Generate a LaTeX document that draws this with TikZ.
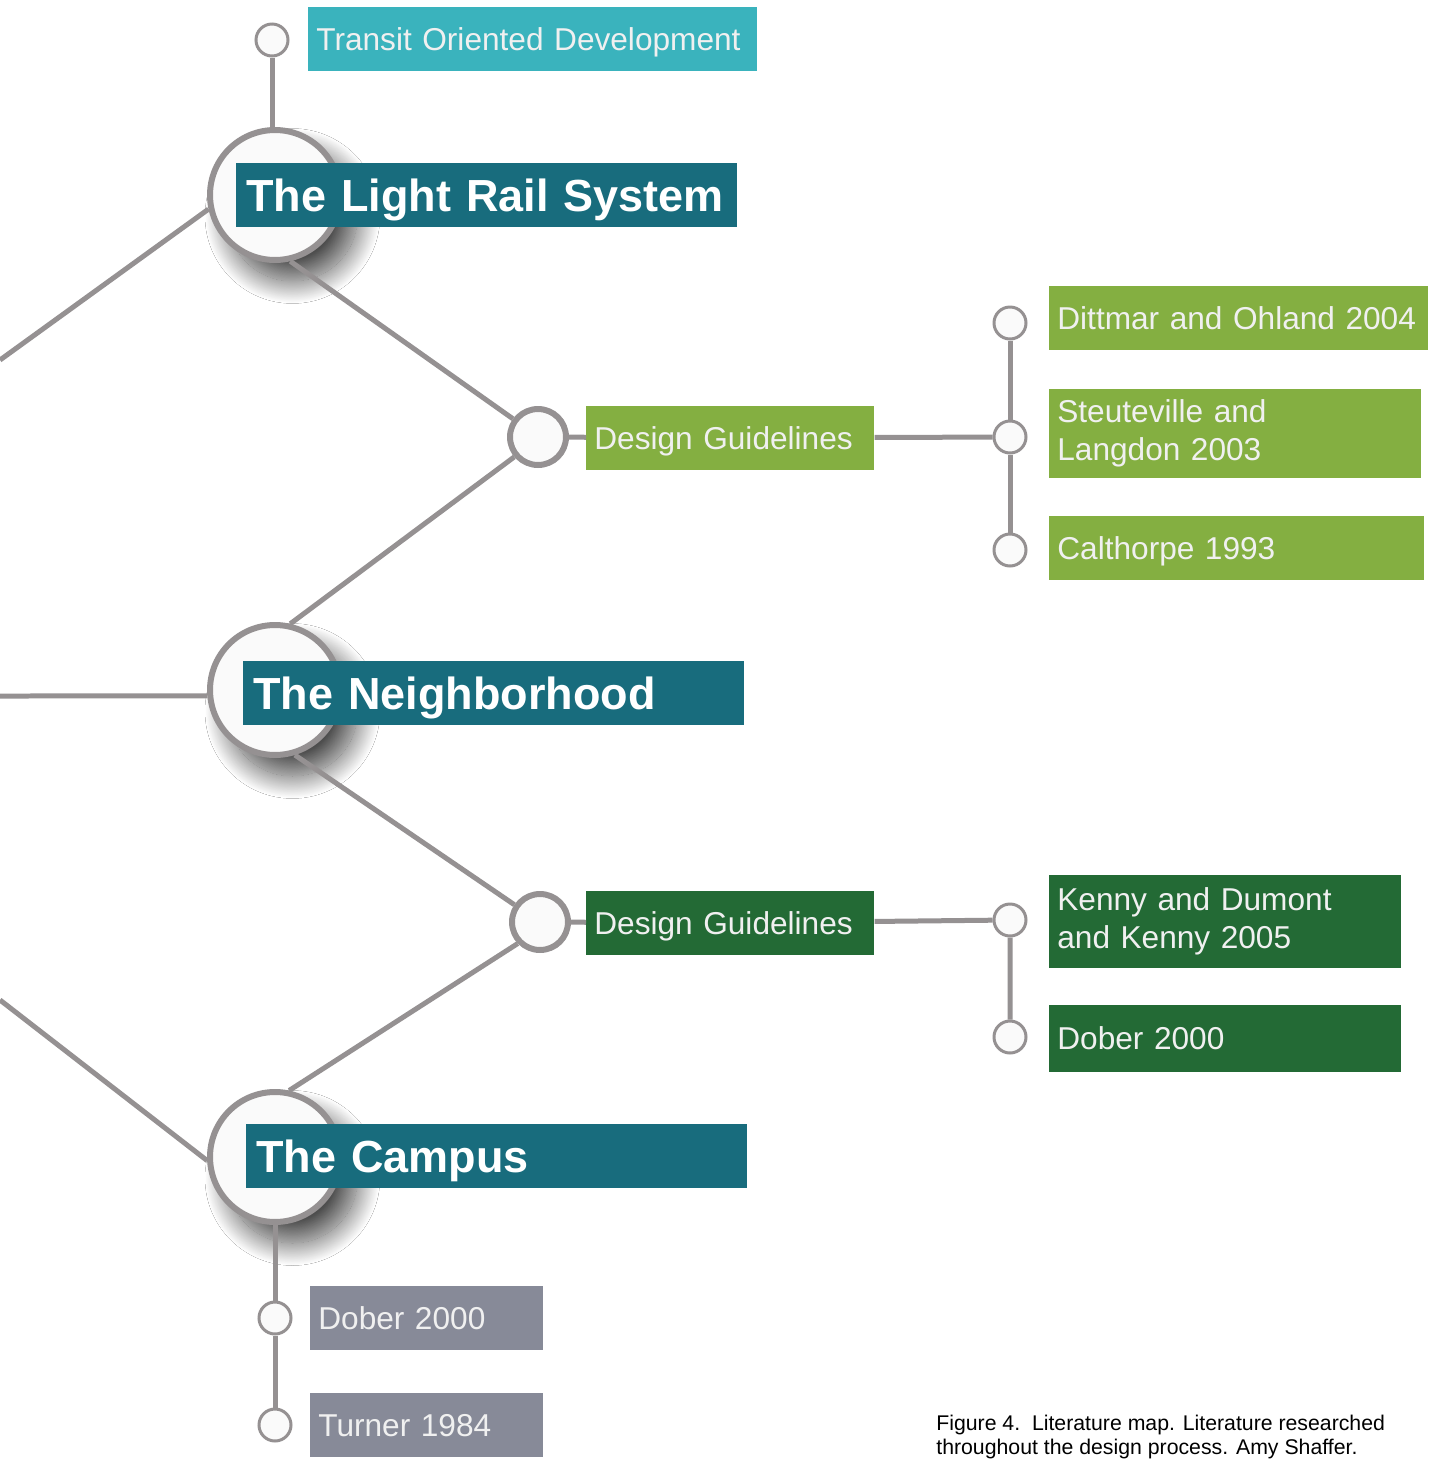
\documentclass[tikz,border=0pt]{standalone}
\usepackage{fontspec}
\setmainfont{Liberation Sans}
\usetikzlibrary{shadows.blur}
\definecolor{railTeal}{RGB}{24,108,125}
\definecolor{todTeal}{RGB}{58,179,189}
\definecolor{leafGreen}{RGB}{132,175,65}
\definecolor{darkGreen}{RGB}{35,106,53}
\definecolor{boxGray}{RGB}{135,138,152}
\definecolor{lineGray}{RGB}{149,145,146}
\definecolor{hubFill}{RGB}{250,250,250}
\definecolor{paleText}{RGB}{240,240,240}
\begin{document}
\begin{tikzpicture}[x=0.02cm,y=-0.02cm,
 link/.style={lineGray,line width=0.1cm},
 hub/.style={circle,draw=lineGray,line width=0.12cm,fill=hubFill,minimum size=2.6cm,inner sep=0pt,
   blur shadow={shadow xshift=0.35cm,shadow yshift=-0.42cm,shadow blur radius=0.45cm,shadow blur steps=40,shadow opacity=70}},
 midHub/.style={circle,draw=lineGray,line width=0.12cm,fill=hubFill,minimum size=1.12cm,inner sep=0pt},
 dot/.style={circle,draw=lineGray,line width=0.06cm,fill=hubFill,minimum size=0.64cm,inner sep=0pt},
 title/.style={anchor=west,fill=railTeal,text=white,font=\bfseries\fontsize{25.6}{30}\selectfont,
   minimum height=1.28cm,inner xsep=0.2cm,text width=9.62cm,text depth=0pt,align=left},
 tag/.style={anchor=west,text=paleText,font=\fontsize{18}{21.6}\selectfont,
   minimum height=1.28cm,inner xsep=0.16cm,align=left},
 oneTag/.style={tag,text depth=0pt}]
\useasboundingbox[fill=white](0,0)rectangle(1428,1461);
% hubs
\node[hub](lightRail)at(275,195){};
\node[hub](neighborhood)at(275,690){};
\node[hub](campus)at(275,1157){};
\node[midHub](designOneHub)at(538,437){};
\node[midHub](designTwoHub)at(540,922){};
% off the page
\coordinate(leftTop)at(0,360);
\coordinate(leftMid)at(0,696);
\coordinate(leftLow)at(0,1000);
% small dots
\node[dot](todDot)at(272,40){};
\node[dot](dittmarDot)at(1010,323){};
\node[dot](steutevilleDot)at(1010,437){};
\node[dot](calthorpeDot)at(1010,550){};
\node[dot](kennyDot)at(1010,920){};
\node[dot](doberDot)at(1010,1037){};
\node[dot](campusDot)at(275,1318){};
\node[dot](turnerDot)at(275,1425){};
% labels
\node[oneTag,fill=todTeal,text width=8.66cm](tod)at(308,39){Transit Oriented Development};
\node[title](lightRailBox)at(236,195){The Light Rail System};
\node[oneTag,fill=leafGreen,text width=5.44cm](designOne)at(586,438){Design Guidelines};
\node[oneTag,fill=leafGreen,text width=7.26cm](dittmar)at(1049,318){Dittmar and Ohland 2004};
\node[tag,fill=leafGreen,text width=7.12cm,minimum height=1.78cm](steuteville)at(1049,433.5){Steuteville and\\Langdon 2003};
\node[oneTag,fill=leafGreen,text width=7.18cm](calthorpe)at(1049,548){Calthorpe 1993};
\node[title](neighborhoodBox)at(243,693){The Neighborhood};
\node[oneTag,fill=darkGreen,text width=5.44cm](designTwo)at(586,923){Design Guidelines};
\node[tag,fill=darkGreen,text width=6.72cm,minimum height=1.86cm](kenny)at(1049,921.5){Kenny and Dumont\\and Kenny 2005};
\node[oneTag,fill=darkGreen,text width=6.72cm,minimum height=1.34cm](doberGreen)at(1049,1038.5){Dober 2000};
\node[title](campusBox)at(246,1156){The Campus};
\node[oneTag,fill=boxGray,text width=4.34cm](doberGray)at(310,1318){Dober 2000};
\node[oneTag,fill=boxGray,text width=4.34cm](turner)at(310,1425){Turner 1984};
\node[anchor=north west,inner sep=0pt,align=left,font=\fontsize{12.1}{13.7}\selectfont](caption)at(936,1415){Figure 4.\ \ Literature map. Literature researched\\throughout the design process. Amy Shaffer.};
% tree
\draw[link](leftTop)--(lightRail.192);
\draw[link](todDot)--(todDot|-lightRail.north);
\draw[link](lightRail.283)--(designOneHub.144);
\draw[link](designOneHub.220)--(neighborhood.77);
\draw[link](leftMid)--(neighborhood.185);
\draw[link](neighborhood.287)--(designTwoHub.146);
\draw[link](designTwoHub.224)--(campus.78);
\draw[link](leftLow)--(campus.183);
\draw[link](campus)--(campusDot)--(turnerDot);
%
\draw[link](designOneHub)--(designOne);
\draw[link](designOne)--(steutevilleDot);
\draw[link](dittmarDot)--(steutevilleDot)--(calthorpeDot);
\draw[link](designTwoHub)--(designTwo);
\draw[link](designTwo)--(kennyDot)--(doberDot);
\end{tikzpicture}
\end{document}
